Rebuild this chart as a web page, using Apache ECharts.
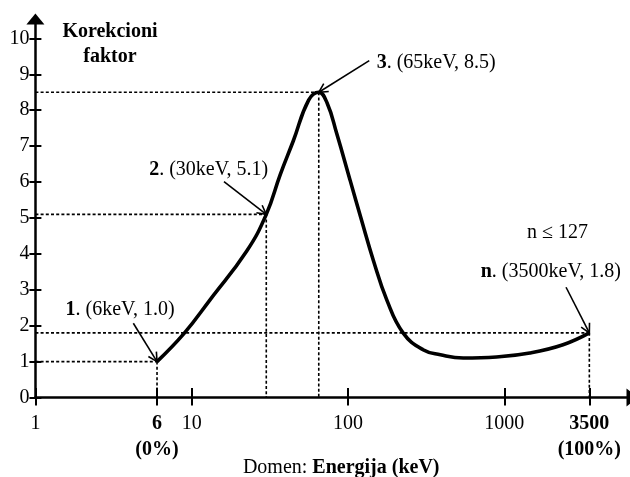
<!DOCTYPE html>
<html><head><meta charset="utf-8">
<script src="https://cdn.jsdelivr.net/npm/echarts@6/dist/echarts.min.js"></script>
<style>html,body{margin:0;padding:0;background:#fff}#c{width:630px;height:477px}</style>
</head><body><div id="c"></div>
<script>
// ---- data ----
const curveX = [6, 9, 13.1, 22.5, 30, 36.8, 44.7, 56, 65, 73.5, 84.7, 103, 122, 145, 177, 225, 302, 390, 546, 891, 1456, 2375, 3500];
const curveY = [1.0, 1.8, 2.72, 4.08, 5.1, 6.2, 7.15, 8.28, 8.5, 8.2, 7.35, 6.06, 4.94, 3.83, 2.72, 1.8, 1.33, 1.19, 1.1, 1.13, 1.24, 1.47, 1.8];
const annX = [6, 30, 65, 3500];
const annY = [1.0, 5.1, 8.5, 1.8];
const annTag = ['1', '2', '3', 'n'];
const annText = ['(6keV, 1.0)', '(30keV, 5.1)', '(65keV, 8.5)', '(3500keV, 1.8)'];
const noteText = 'n \u2264 127';
const xTickValues = [1, 6, 10, 100, 1000, 3500];
const xTickPercent = {6: '(0%)', 3500: '(100%)'};
const yTickValues = [0, 1, 2, 3, 4, 5, 6, 7, 8, 9, 10];
const yTitle = 'Korekcioni\nfaktor';
const xTitlePlain = 'Domen: ';
const xTitleBold = 'Energija (keV)';

// ---- layout (not data) ----
const FONT = '"Liberation Serif", "Times New Roman", serif';
const FS = 20;
const X_MIN = 1, X_MAX = Math.pow(10, 3.817);
const Y_MIN = 0, Y_MAX = 10.54;
const annLayout = [
  {tail: [-23.7, -38.3], text: [-37, -51.6], align: 'center'},
  {tail: [-42.3, -32.7], text: [2, -44.4], align: 'right'},
  {tail: [50.5, -31.7], text: [57.9, -29.4], align: 'left'},
  {tail: [-23.3, -45.6], text: [-108.6, -61.2], align: 'left', note: [-31.8, -99.9]}
];

const chart = echarts.init(document.getElementById('c'), null, {renderer: 'canvas'});

const baseX = {
  type: 'log', logBase: 10, min: X_MIN, max: X_MAX, gridIndex: 0,
  splitLine: {show: false}, minorTick: {show: false}, minorSplitLine: {show: false}
};
const baseY = {
  type: 'value', min: Y_MIN, max: Y_MAX, gridIndex: 0,
  splitLine: {show: false}
};

const option = {
  animation: false,
  backgroundColor: '#fff',
  grid: {left: 35.4, right: -2, top: 19, bottom: 79.5, containLabel: false, outerBoundsMode: 'none'},
  xAxis: [
    Object.assign({}, baseX, {
      position: 'bottom',
      axisLine: {show: true, lineStyle: {color: '#000', width: 2.5}, symbol: ['none', 'triangle'], symbolSize: [18, 11]},
      axisTick: {show: true, inside: false, length: 8, lineStyle: {color: '#000', width: 2}, customValues: xTickValues},
      axisLabel: {
        show: true, margin: 13, customValues: xTickValues, color: '#000',
        fontFamily: FONT, fontSize: FS, lineHeight: 26,
        formatter: function (v) {
          const r = Math.round(v);
          if (xTickPercent[r]) return '{b|' + r + '}\n{b|' + xTickPercent[r] + '}';
          return '{n|' + r + '}';
        },
        rich: {
          b: {fontFamily: FONT, fontSize: FS, fontWeight: 'bold', lineHeight: 26, color: '#000'},
          n: {fontFamily: FONT, fontSize: FS, lineHeight: 26, color: '#000'}
        }
      },
      name: xTitlePlain + '{b|' + xTitleBold + '}',
      nameLocation: 'middle', nameGap: 60, nameMoveOverlap: false,
      nameTextStyle: {
        color: '#000', fontFamily: FONT, fontSize: FS, padding: [0, 0, 0, 15],
        rich: {b: {fontFamily: FONT, fontSize: FS, fontWeight: 'bold', color: '#000'}}
      }
    }),
    Object.assign({}, baseX, {
      position: 'bottom',
      axisLine: {show: false},
      axisTick: {show: true, inside: true, length: 9.5, lineStyle: {color: '#000', width: 2}, customValues: xTickValues},
      axisLabel: {show: false}
    })
  ],
  yAxis: [
    Object.assign({}, baseY, {
      position: 'left',
      axisLine: {show: true, lineStyle: {color: '#000', width: 2.5}, symbol: ['none', 'triangle'], symbolSize: [18, 11]},
      axisTick: {show: true, inside: false, length: 6, lineStyle: {color: '#000', width: 2}, customValues: yTickValues},
      axisLabel: {show: true, margin: 6, customValues: yTickValues, color: '#000', fontFamily: FONT, fontSize: FS,
        formatter: v => String(Math.round(v))}
    }),
    Object.assign({}, baseY, {
      position: 'left',
      axisLine: {show: false},
      axisTick: {show: true, inside: true, length: 6, lineStyle: {color: '#000', width: 2}, customValues: yTickValues},
      axisLabel: {show: false}
    })
  ],
  graphic: [{
    type: 'text', x: 110, y: 19,
    style: {text: yTitle, fill: '#000', fontFamily: FONT, fontSize: FS, fontWeight: 'bold',
      align: 'center', verticalAlign: 'top', lineHeight: 25}
  }],
  series: [
    {
      type: 'custom', name: 'guides', xAxisIndex: 0, yAxisIndex: 0, z: 1, clip: false,
      data: annX.map((x, i) => [x, annY[i]]),
      renderItem: function (params, api) {
        const p = api.coord([api.value(0), api.value(1)]);
        const o = api.coord([X_MIN, 0]);
        const st = {stroke: '#000', lineWidth: 1.6, lineDash: [3, 2.2]};
        return {type: 'group', children: [
          {type: 'line', shape: {x1: o[0], y1: p[1], x2: p[0], y2: p[1]}, style: st},
          {type: 'line', shape: {x1: p[0], y1: p[1], x2: p[0], y2: o[1]}, style: st}
        ]};
      }
    },
    {
      type: 'line', name: 'curve', xAxisIndex: 0, yAxisIndex: 0, z: 3,
      data: curveX.map((x, i) => [x, curveY[i]]),
      smooth: 0.45, symbol: 'none',
      lineStyle: {color: '#000', width: 3.6}
    },
    {
      type: 'custom', name: 'annotations', xAxisIndex: 0, yAxisIndex: 0, z: 4, clip: false,
      data: annX.map((x, i) => [x, annY[i]]),
      renderItem: function (params, api) {
        const i = params.dataIndex;
        const L = annLayout[i];
        const p = api.coord([api.value(0), api.value(1)]);
        const t = [p[0] + L.tail[0], p[1] + L.tail[1]];
        const dx = p[0] - t[0], dy = p[1] - t[1];
        const len = Math.sqrt(dx * dx + dy * dy);
        const ux = dx / len, uy = dy / len;
        const hl = 10, ang = 28 * Math.PI / 180;
        const c = Math.cos(ang), s = Math.sin(ang);
        const h1 = [p[0] - hl * (ux * c - uy * s), p[1] - hl * (ux * s + uy * c)];
        const h2 = [p[0] - hl * (ux * c + uy * s), p[1] - hl * (-ux * s + uy * c)];
        const st = {stroke: '#000', lineWidth: 1.6, fill: null};
        const children = [
          {type: 'line', shape: {x1: t[0], y1: t[1], x2: p[0], y2: p[1]}, style: st},
          {type: 'polyline', shape: {points: [h1, p, h2]}, style: st},
          {type: 'text', x: p[0] + L.text[0], y: p[1] + L.text[1],
            style: {text: '{b|' + annTag[i] + '}. ' + annText[i], fill: '#000',
              fontFamily: FONT, fontSize: FS, align: L.align, verticalAlign: 'middle',
              rich: {b: {fontFamily: FONT, fontSize: FS, fontWeight: 'bold', fill: '#000'}}}}
        ];
        if (L.note) {
          children.push({type: 'text', x: p[0] + L.note[0], y: p[1] + L.note[1],
            style: {text: noteText, fill: '#000', fontFamily: FONT, fontSize: FS,
              align: 'center', verticalAlign: 'middle'}});
        }
        return {type: 'group', children: children};
      }
    }
  ]
};
chart.setOption(option);
</script>
</body></html>
